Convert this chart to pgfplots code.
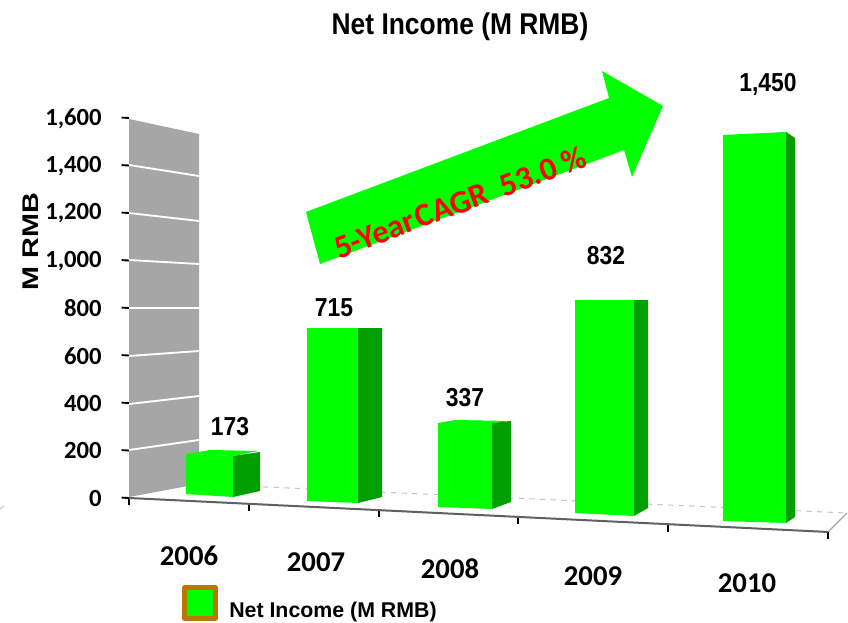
\documentclass[border=0pt]{standalone}
\usepackage{fontspec}
\setmainfont{Carlito}
\newfontfamily\arialf{Liberation Sans}
\usepackage{pgfplots}
\pgfplotsset{compat=1.18}
\definecolor{barfront}{HTML}{00FF00}
\definecolor{barside}{HTML}{009F00}
\definecolor{wallgrey}{HTML}{A6A6A6}
\definecolor{legborder}{HTML}{B87800}
\newcommand{\ar}[1]{\fontsize{#1}{#1}\selectfont\arialf\bfseries}
\newcommand{\ca}[1]{\fontsize{#1}{#1}\selectfont\bfseries}
\begin{document}
\begin{tikzpicture}
\useasboundingbox (0pt,0pt) rectangle (636pt,467.25pt);
\begin{axis}[
  at={(0pt,0pt)}, anchor=south west, scale only axis,
  width=636pt, height=467.25pt,
  xmin=0, xmax=848, ymin=0, ymax=623, y dir=reverse,
  axis lines=none, clip=false]
% wall
\addplot[fill=wallgrey, draw=none] coordinates {(129,119)(199,134)(199,484)(129,497)} -- cycle;
% wall grid lines
\addplot[white, line width=1.4pt] coordinates {(129,165)(199,176)};
\addplot[white, line width=1.4pt] coordinates {(129,213)(199,221)};
\addplot[white, line width=1.4pt] coordinates {(129,260)(199,264)};
\addplot[white, line width=1.4pt] coordinates {(129,308)(199,308)};
\addplot[white, line width=1.4pt] coordinates {(129,356)(199,351)};
\addplot[white, line width=1.4pt] coordinates {(129,404)(199,396)};
\addplot[white, line width=1.4pt] coordinates {(129,450)(199,440)};
% floor
\addplot[gray!45, line width=0.8pt, dash pattern=on 4pt off 4pt] coordinates {(199,484)(847,513)};
\addplot[gray!70, line width=1pt] coordinates {(828,532)(847,513)};
\addplot[gray!50, line width=0.7pt] coordinates {(0,509)(4,506)};
% 2006
\addplot[fill=barfront, draw=none] coordinates {(186,454)(210,450)(258,451)(233,456)} -- cycle;
\addplot[fill=barfront, draw=none] coordinates {(186,454)(233,456)(233,497)(186,494)} -- cycle;
\addplot[fill=barside, draw=none] coordinates {(233,456)(260,452)(260,491)(233,497)} -- cycle;
% 2007
\addplot[fill=barfront, draw=none] coordinates {(307,328)(358,328)(358,503)(307,501)} -- cycle;
\addplot[fill=barside, draw=none] coordinates {(358,328)(382,328)(382,497)(358,503)} -- cycle;
% 2008
\addplot[fill=barfront, draw=none] coordinates {(438,423)(455,420)(511,421)(492,423)} -- cycle;
\addplot[fill=barfront, draw=none] coordinates {(438,423)(492,423)(492,509)(438,507)} -- cycle;
\addplot[fill=barside, draw=none] coordinates {(492,423)(511,421)(511,502)(492,509)} -- cycle;
% 2009
\addplot[fill=barfront, draw=none] coordinates {(575,300)(634,300)(634,516)(575,513)} -- cycle;
\addplot[fill=barside, draw=none] coordinates {(634,300)(648,300)(648,508)(634,516)} -- cycle;
% 2010
\addplot[fill=barfront, draw=none] coordinates {(723,135)(786,132)(786,523)(723,521)} -- cycle;
\addplot[fill=barside, draw=none] coordinates {(786,132)(795,138)(795,517)(786,523)} -- cycle;
% arrow
\addplot[fill=barfront, draw=none] coordinates {(306,212)(609,98)(602,71)(663,106)(632,177)(624,150)(320,264)} -- cycle;
\node[rotate=20.5, text=red] at (axis cs:460,202) {\ca{24.5pt}5-Year\kern2pt CAGR\ \ 53.0 \%};
% title, labels
\node at (axis cs:460,27) {\scalebox{0.88}[1]{\ar{22.5pt}Net Income (M RMB)}};
\node at (axis cs:230,427) {\scalebox{0.88}[1]{\ar{19.5pt}173}};
\node at (axis cs:334,308) {\scalebox{0.88}[1]{\ar{19.5pt}715}};
\node at (axis cs:465,398) {\scalebox{0.88}[1]{\ar{19.5pt}337}};
\node at (axis cs:606,256) {\scalebox{0.88}[1]{\ar{19.5pt}832}};
\node at (axis cs:768,84) {\scalebox{0.88}[1]{\ar{19.5pt}1,450}};
% legend
\addplot[fill=barfront, draw=legborder, line width=3.6pt, line join=round] coordinates {(184.5,587.5)(215.5,587.5)(215.5,618.5)(184.5,618.5)} -- cycle;
\node[anchor=west, inner sep=0pt] at (axis cs:229,612) {\ar{16pt}Net Income (M RMB)};
\end{axis}
\begin{axis}[
  at={(96.75pt,93.75pt)}, anchor=origin,
  x={(0.75pt,-0.03645pt)}, y={(0pt,0.178125pt)},
  xmin=0, xmax=699, ymin=0, ymax=1600,
  axis x line=bottom, axis y line=left,
  axis line style={-},
  x axis line style={draw=gray!75!black, line width=1.5pt},
  y axis line style={draw=none},
  tick align=outside, major tick length=5.5pt,
  tick style={black, line width=1.4pt},
  xtick={0,120,250,389,539,699}, xticklabels={},
  extra x ticks={60,187,321,464,618},
  extra x tick labels={2006,2007,2008,2009,2010},
  extra x tick style={major tick length=0pt, tick label style={font=\ca{21.5pt}, anchor=center, yshift=-41.5pt}},
  ytick={0,200,400,600,800,1000,1200,1400,1600},
  scaled y ticks=false,
  /pgf/number format/.cd, assume math mode=true, 1000 sep={,},
  /pgfplots/.cd,
  yticklabel style={font=\ca{18.5pt}, anchor=east, xshift=-11.5pt, yshift=-0.5pt},
  ylabel={\scalebox{1.27}[1]{\ar{17pt}M RMB}},
  every axis y label/.style={at={(axis cs:-98,1058)}, rotate=90, anchor=center},
  clip=false]
\end{axis}
\end{tikzpicture}
\end{document}
